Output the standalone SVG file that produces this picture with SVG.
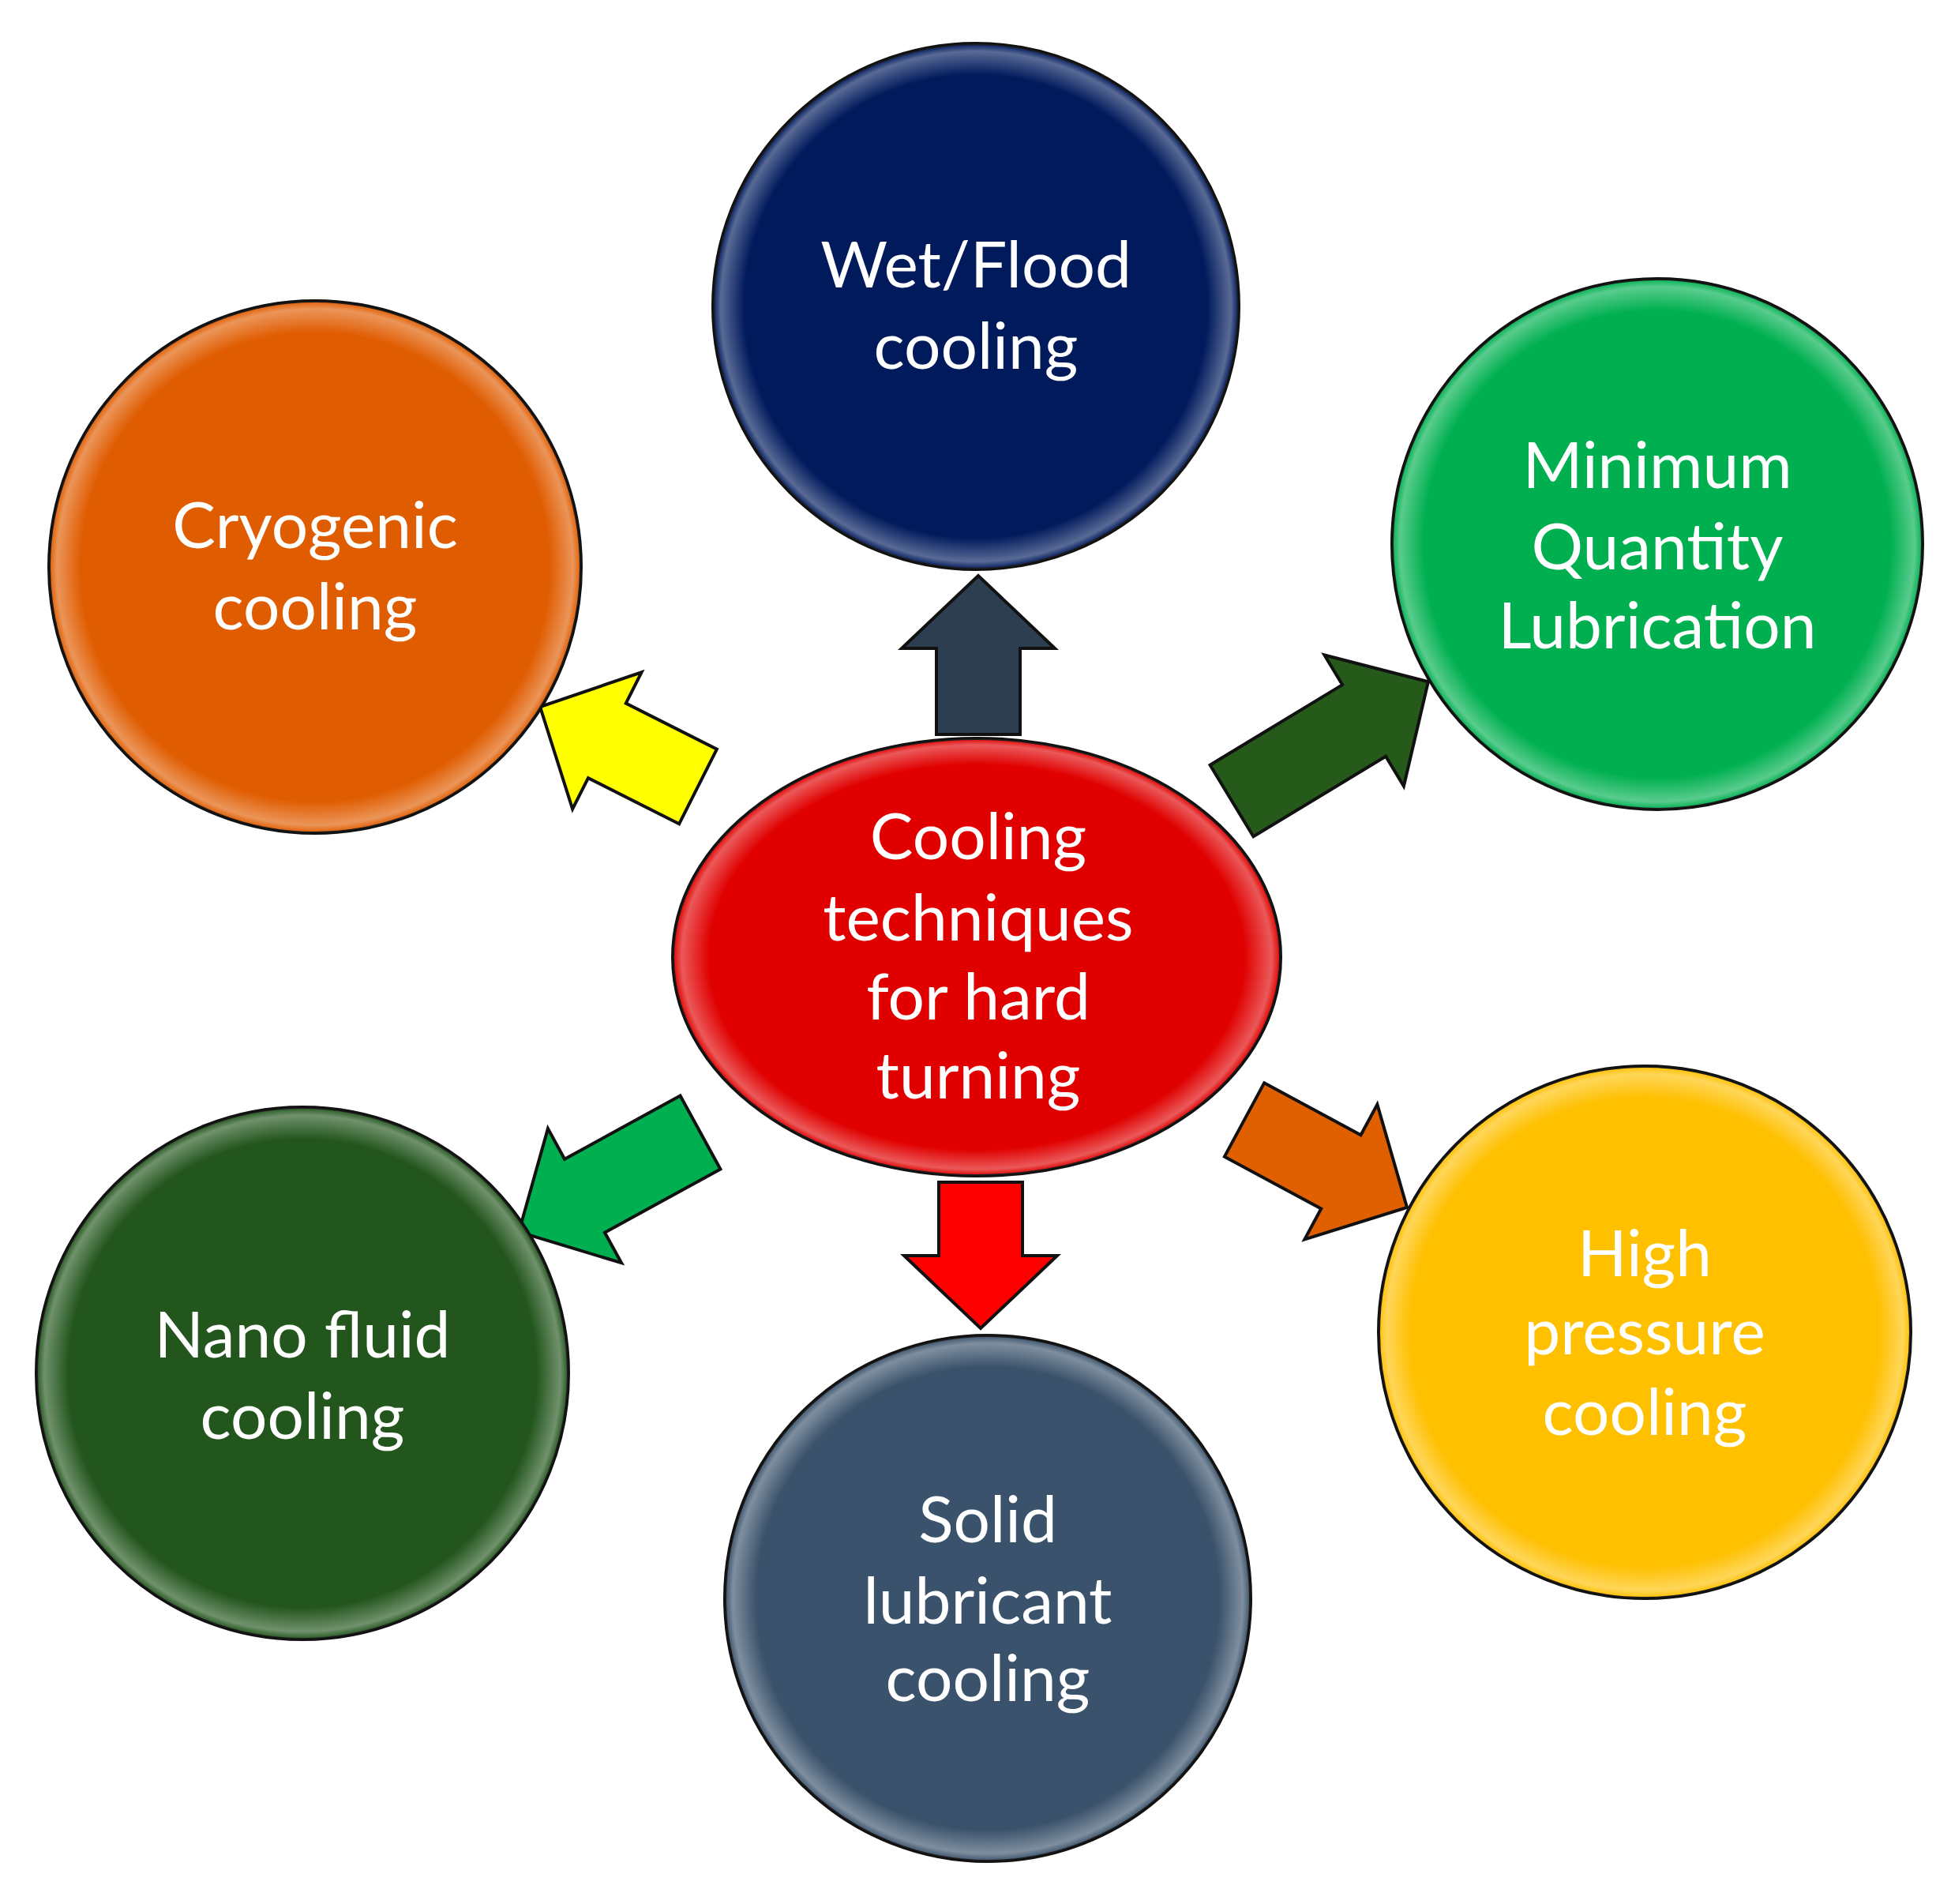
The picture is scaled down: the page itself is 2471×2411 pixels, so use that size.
<svg xmlns="http://www.w3.org/2000/svg" width="2471" height="2411" viewBox="0 0 2471 2411">
<style>
.n{stroke:#111;stroke-width:4}
.a{stroke:#111;stroke-width:4;stroke-linejoin:miter}
text{font-family:Lato,"Open Sans","Liberation Sans",sans-serif;font-size:82px;fill:#fff;text-anchor:middle}
</style>
<defs>
<radialGradient id="hl" cx="0.5" cy="0.5" r="0.5">
<stop offset="0.88" stop-color="#fff" stop-opacity="0"/>
<stop offset="0.97" stop-color="#fff" stop-opacity="0.35"/>
<stop offset="1" stop-color="#fff" stop-opacity="0"/>
</radialGradient>
</defs>
<rect width="2471" height="2411" fill="#fff"/>
<g id="connectors">
<polygon class="a" fill="#2d3e50" transform="translate(1239,930) rotate(-90)" points="0,-53 109,-53 109,-97 201,0 109,97 109,53 0,53"/>
<polygon class="a" fill="#ff0000" transform="translate(1242,1497) rotate(90)" points="0,-53 93,-53 93,-97 185,0 93,97 93,53 0,53"/>
<polygon class="a" fill="#ffff00" transform="translate(884,996) rotate(206.8)" points="0,-53 129,-53 129,-97 224,0 129,97 129,53 0,53"/>
<polygon class="a" fill="#255a1a" transform="translate(1560,1014) rotate(-31.2)" points="0,-53 196,-53 196,-97 291,0 196,97 196,53 0,53"/>
<polygon class="a" fill="#00b050" transform="translate(887,1434) rotate(151.3)" points="0,-53 167,-53 167,-97 262,0 167,97 167,53 0,53"/>
<polygon class="a" fill="#e06000" transform="translate(1576,1418) rotate(28.3)" points="0,-53 139,-53 139,-97 234,0 139,97 139,53 0,53"/>
</g>
<g id="wet"><circle class="n" cx="1236" cy="388" r="333" fill="#001a5c"/><circle cx="1236" cy="388" r="333" fill="url(#hl)"/><text x="1236" y="364">Wet/Flood</text><text x="1236" y="467">cooling</text></g>
<g id="mql"><circle class="n" cx="2099" cy="689" r="336" fill="#00b050"/><circle cx="2099" cy="689" r="336" fill="url(#hl)"/><text x="2099" y="618">Minimum</text><text x="2099" y="721">Quantity</text><text x="2099" y="821">Lubrication</text></g>
<g id="cryo"><circle class="n" cx="399" cy="718" r="337" fill="#e05c00"/><circle cx="399" cy="718" r="337" fill="url(#hl)"/><text x="399" y="694">Cryogenic</text><text x="399" y="797">cooling</text></g>
<g id="center"><ellipse class="n" cx="1237" cy="1212" rx="385" ry="277" fill="#e00000"/><ellipse cx="1237" cy="1212" rx="385" ry="277" fill="url(#hl)"/><text x="1239" y="1088">Cooling</text><text x="1239" y="1191">techniques</text><text x="1239" y="1291">for hard</text><text x="1239" y="1391">turning</text></g>
<g id="nano"><circle class="n" cx="383" cy="1739" r="337" fill="#23561d"/><circle cx="383" cy="1739" r="337" fill="url(#hl)"/><text x="383" y="1719">Nano fluid</text><text x="383" y="1822">cooling</text></g>
<g id="solid"><circle class="n" cx="1251" cy="2024" r="333" fill="#3a526b"/><circle cx="1251" cy="2024" r="333" fill="url(#hl)"/><text x="1251" y="1953">Solid</text><text x="1251" y="2056">lubricant</text><text x="1251" y="2154">cooling</text></g>
<g id="hp"><circle class="n" cx="2083" cy="1687" r="337" fill="#ffc000"/><circle cx="2083" cy="1687" r="337" fill="url(#hl)"/><text x="2083" y="1616">High</text><text x="2083" y="1715">pressure</text><text x="2083" y="1817">cooling</text></g>
</svg>
